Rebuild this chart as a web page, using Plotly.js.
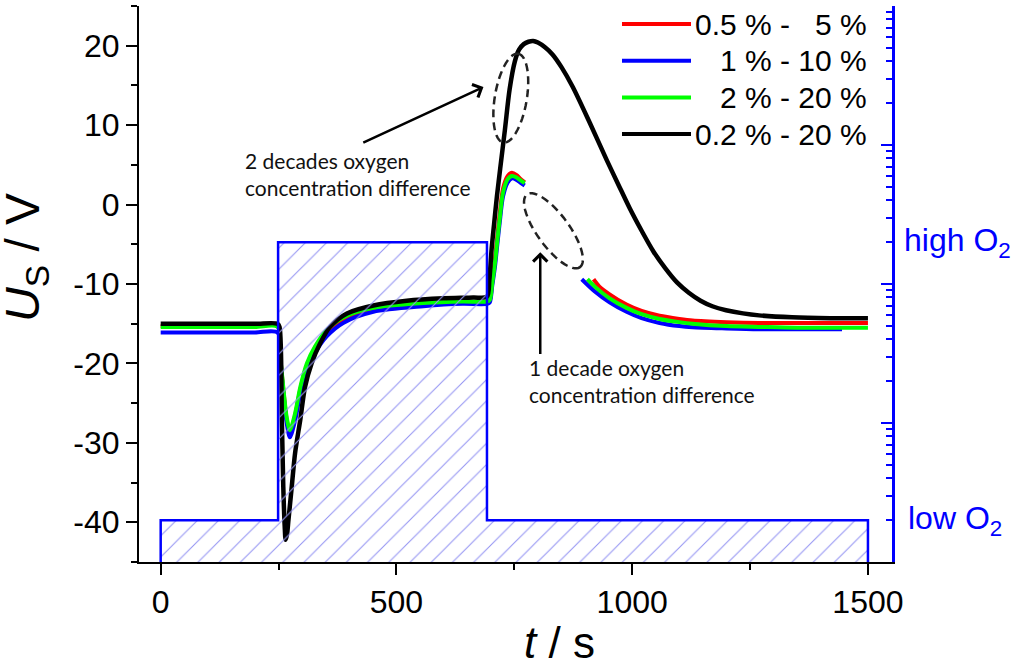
<!DOCTYPE html>
<html>
<head>
<meta charset="utf-8">
<script src="https://cdn.plot.ly/plotly-3.0.1.min.js"></script>
<style>
  html, body { margin: 0; padding: 0; background: #fff; }
  #chart { width: 1024px; height: 667px; }
</style>
</head>
<body>
<div id="chart"></div>
<script>
// series names (legend) and colours
var seriesNames = ['0.5 % -\u00a0\u00a0\u00a05 %', '1 % - 10 %', '2 % - 20 %', '0.2 % - 20 %'];
var seriesColors = ['#ff0000', '#0000ff', '#00ff00', '#000000'];

// coloured runs, part before the break
var tPre = [0, 100, 200, 248, 253, 260, 267, 274, 285, 296, 310, 327, 352, 387, 451, 557, 640, 692,
            698, 703, 709, 714, 719, 726, 736, 745, 755, 762, 772];
var redPre = [-15.3, -15.3, -15.3, -15.3, -18.9, -23.2, -27.0, -28.8, -26.6, -23.3, -20.3, -18.2, -16.1,
              -14.5, -13.2, -12.6, -12.3, -12.3, -12.0, -9.7, -6.8, -4.0, -1.2, 2.0, 3.6, 4.0, 3.7, 3.3, 2.8];
var bluePre = [-16.1, -16.1, -16.1, -16.1, -19.2, -23.6, -27.4, -29.3, -27.2, -23.8, -20.8, -18.7, -16.6,
               -14.9, -13.5, -12.8, -12.5, -12.5, -12.3, -10.3, -7.8, -5.0, -2.3, 1.0, 2.8, 3.3, 3.1, 2.8, 2.4];
var greenPre = [-15.4, -15.4, -15.4, -15.4, -18.8, -23.0, -26.7, -28.4, -26.3, -23.0, -20.0, -17.9, -15.8,
                -14.2, -13.0, -12.4, -12.2, -12.2, -12.0, -10.0, -7.3, -4.5, -1.8, 1.5, 3.2, 3.6, 3.4, 3.1, 2.7];

// coloured runs, part after the break
var tRedPost = [918, 930, 952, 988, 1020, 1058, 1100, 1128, 1200, 1269, 1350, 1500];
var redPost = [-9.4, -10.3, -11.3, -12.6, -13.4, -14.0, -14.4, -14.6, -14.8, -14.9, -14.9, -14.9];
var tBluePost = [893, 920, 952, 988, 1020, 1058, 1100, 1128, 1200, 1269, 1350, 1445];
var bluePost = [-9.4, -10.9, -12.3, -13.5, -14.3, -14.9, -15.3, -15.45, -15.6, -15.7, -15.7, -15.7];
var tGreenPost = [905, 920, 952, 988, 1020, 1058, 1100, 1128, 1200, 1269, 1350, 1500];
var greenPost = [-9.4, -10.3, -11.8, -13.0, -13.8, -14.4, -14.8, -15.0, -15.3, -15.4, -15.5, -15.5];

// black run, 0.2 % - 20 %
var tBlack = [0, 100, 200, 248, 252, 257, 260, 263, 265, 268, 271, 278, 285, 296, 306, 320, 338, 359, 395,
              451, 522, 600, 663, 692, 697, 702, 707, 713, 720, 730, 740, 751, 760, 770, 780, 790, 800, 815,
              831, 850, 874, 910, 946, 970, 995, 1020, 1045, 1070, 1095, 1120, 1145, 1170, 1199, 1235,
              1269, 1339, 1420, 1500];
var uBlack = [-15.0, -15.0, -15.0, -15.0, -15.4, -27.1, -35.5, -40.5, -42.2, -41.5, -39.7, -35.5, -31.3,
              -27.1, -23.0, -20.0, -17.5, -15.4, -13.7, -12.7, -12.1, -11.8, -11.7, -11.6, -9.5, -5.5,
              -2.5, 1.0, 4.5, 9.4, 14.5, 18.0, 19.5, 20.2, 20.5, 20.6, 20.4, 19.8, 18.9, 17.3, 14.8, 10.3,
              5.6, 2.6, -0.5, -3.3, -5.9, -8.0, -9.8, -11.1, -12.1, -12.8, -13.3, -13.7,
              -13.95, -14.2, -14.3, -14.3];

// oxygen step (right axis, %)
var stepT = [0, 0, 249, 249, 692, 692, 1500, 1500];
var stepO2 = [null, 0.2, 0.2, 20, 20, 0.2, 0.2, null];

// left axis tick labels (plain hyphen minus as in the original)
var uTickVals = [-40, -30, -20, -10, 0, 10, 20];
var uTickText = ['-40', '-30', '-20', '-10', '0', '10', '20'];

var xRange = [-46, 1551];
var yRange = [-45, 25];
var o2Range = [-1, 3];

var W = 1024, H = 667;
var M = {l: 139, r: 132, t: 6, b: 105};
var kx = (W - M.l - M.r) / (xRange[1] - xRange[0]);
var ky = (H - M.t - M.b) / (yRange[1] - yRange[0]);

var fontMain = 'Liberation Sans, Arial, sans-serif';

function joinRuns(tA, uA, tB, uB) {
  return { x: tA.concat([null]).concat(tB), y: uA.concat([null]).concat(uB) };
}

var o2Bottom = Math.pow(10, o2Range[0]);
var stepY = stepO2.map(function (v) { return v === null ? o2Bottom : v; });
var o2Vals = stepO2.filter(function (v) { return v !== null; });
var o2High = Math.max.apply(null, o2Vals), o2Low = Math.min.apply(null, o2Vals);

var traces = [{
  x: stepT, y: stepY, yaxis: 'y2', type: 'scatter', mode: 'lines',
  line: {color: '#0000ff', width: 2.5},
  fill: 'toself', fillcolor: 'rgba(0,0,0,0)',
  fillpattern: {shape: '/', size: 15, solidity: 0.07, fgcolor: '#9494f2', bgcolor: 'rgba(255,255,255,0)'},
  hoverinfo: 'skip', showlegend: false
}];

var runs = [
  joinRuns(tPre, redPre, tRedPost, redPost),
  joinRuns(tPre, bluePre, tBluePost, bluePost),
  joinRuns(tPre, greenPre, tGreenPost, greenPost),
  {x: tBlack, y: uBlack}
];
runs.forEach(function (r, i) {
  traces.push({
    x: r.x, y: r.y, type: 'scatter', mode: 'lines', name: seriesNames[i],
    line: {color: seriesColors[i], width: i === 3 ? 4.5 : 4, shape: 'spline', smoothing: 0.8},
    connectgaps: false
  });
});

// dashed ellipses drawn in pixel space, converted to data units
function ellipsePath(cx, cy, a, b, angDeg) {
  var th = angDeg * Math.PI / 180, p = '';
  for (var k = 0; k <= 60; k++) {
    var f = 2 * Math.PI * k / 60;
    var dx = a * Math.cos(f) * Math.cos(th) - b * Math.sin(f) * Math.sin(th);
    var dy = a * Math.cos(f) * Math.sin(th) + b * Math.sin(f) * Math.cos(th);
    p += (k === 0 ? 'M' : 'L') + (cx + dx / kx).toFixed(2) + ',' + (cy - dy / ky).toFixed(3);
  }
  return p + 'Z';
}

var shapes = [
  {type: 'path', xref: 'x', yref: 'y', path: ellipsePath(742.5, 13.4, 45, 16, -80.5),
   line: {color: '#222', width: 2.5, dash: '8px,5px'}},
  {type: 'path', xref: 'x', yref: 'y', path: ellipsePath(833, -3.3, 45, 16, 54),
   line: {color: '#222', width: 2.5, dash: '8px,5px'}}
];

// hand-drawn legend (long line samples, right-aligned labels)
var plotH = H - M.t - M.b, plotW = W - M.l - M.r;
var annotations = [];
seriesNames.forEach(function (n, i) {
  var yp = 1 - (18 + 36.7 * i) / plotH;
  shapes.push({type: 'line', xref: 'paper', yref: 'paper',
    x0: (622 - M.l) / plotW, x1: (691 - M.l) / plotW, y0: yp, y1: yp,
    line: {color: seriesColors[i], width: 4}});
  annotations.push({xref: 'paper', yref: 'paper', x: (869 - M.l) / plotW, y: yp,
    xanchor: 'right', yanchor: 'middle', showarrow: false, text: n,
    font: {family: fontMain, size: 30, color: '#000'}});
});

annotations.push(
  {xref: 'x', yref: 'y', x: 684.5, y: 14.8, ax: 426.5, ay: 7.7, axref: 'x', ayref: 'y',
   showarrow: true, arrowhead: 4, arrowsize: 1.1, arrowwidth: 2.5, arrowcolor: '#000', text: ''},
  {xref: 'x', yref: 'y', x: 805, y: -6.0, ax: 805, ay: -19, axref: 'x', ayref: 'y',
   showarrow: true, arrowhead: 4, arrowsize: 1.1, arrowwidth: 2.5, arrowcolor: '#000', text: ''},
  {xref: 'x', yref: 'y', x: 174, y: 3.8, xanchor: 'left', yanchor: 'middle', align: 'left',
   showarrow: false, text: '2 decades oxygen<br>concentration difference',
   font: {family: 'Lato, sans-serif', size: 21, color: '#111'}},
  {xref: 'x', yref: 'y', x: 776.6, y: -22.2, xanchor: 'left', yanchor: 'middle', align: 'left',
   showarrow: false, text: '1 decade oxygen<br>concentration difference',
   font: {family: 'Lato, sans-serif', size: 21, color: '#111'}},
  // log axis: annotation y is given in decades
  {xref: 'paper', yref: 'y2', x: 1, y: Math.log10(o2High), xanchor: 'left', yanchor: 'middle', xshift: 10,
   showarrow: false, text: 'high O<sub>2</sub>', font: {family: fontMain, size: 32, color: '#0000ff'}},
  {xref: 'paper', yref: 'y2', x: 1, y: Math.log10(o2Low), xanchor: 'left', yanchor: 'middle', xshift: 14,
   showarrow: false, text: 'low O<sub>2</sub>', font: {family: fontMain, size: 32, color: '#0000ff'}},
  {xref: 'paper', yref: 'paper', x: (26 - M.l) / plotW, y: 1 - (258 - M.t) / plotH,
   xanchor: 'center', yanchor: 'middle', textangle: -90, showarrow: false,
   text: '<i>U</i><sub>S</sub> / V', font: {family: fontMain, size: 48, color: '#000'}},
  {xref: 'paper', yref: 'paper', x: (559 - M.l) / plotW, y: 1 - (642 - M.t) / plotH,
   xanchor: 'center', yanchor: 'middle', showarrow: false,
   text: '<i>t</i> / s', font: {family: fontMain, size: 44, color: '#000'}}
);

var minorO2 = [];
for (var d = o2Range[0]; d < o2Range[1]; d++) {
  for (var m = 2; m <= 9; m++) minorO2.push(m * Math.pow(10, d));
}
var majorO2 = [];
for (var e = o2Range[0]; e <= o2Range[1]; e++) majorO2.push(Math.pow(10, e));

var axisFont = {family: fontMain, size: 32, color: '#000'};

var layout = {
  width: W, height: H, margin: M,
  paper_bgcolor: '#fff', plot_bgcolor: '#fff',
  showlegend: false,
  xaxis: {
    range: xRange, showline: true, linecolor: '#000', linewidth: 2,
    ticks: 'outside', ticklen: 11, tickwidth: 2, tickcolor: '#000',
    tick0: 0, dtick: 500, showgrid: false, zeroline: false, tickfont: axisFont,
    minor: {ticks: 'outside', ticklen: 6, tickwidth: 2, tickcolor: '#000', tick0: 0, dtick: 250, showgrid: false}
  },
  yaxis: {
    range: yRange, showline: true, linecolor: '#000', linewidth: 2,
    ticks: 'outside', ticklen: 11, tickwidth: 2, tickcolor: '#000',
    tickmode: 'array', tickvals: uTickVals, ticktext: uTickText,
    showgrid: false, zeroline: false, tickfont: axisFont,
    minor: {ticks: 'outside', ticklen: 6, tickwidth: 2, tickcolor: '#000', tick0: 0, dtick: 5, showgrid: false}
  },
  yaxis2: {
    overlaying: 'y', side: 'right', type: 'log', range: o2Range,
    showline: true, linecolor: '#0000ff', linewidth: 2.5,
    ticks: 'inside', ticklen: 11, tickwidth: 2, tickcolor: '#0000ff',
    tickmode: 'array', tickvals: majorO2, showticklabels: false,
    showgrid: false, zeroline: false,
    minor: {ticks: 'inside', ticklen: 6, tickwidth: 2, tickcolor: '#0000ff',
            tickmode: 'array', tickvals: minorO2, showgrid: false}
  },
  shapes: shapes,
  annotations: annotations
};

Plotly.newPlot('chart', traces, layout, {staticPlot: true});
</script>
</body>
</html>
